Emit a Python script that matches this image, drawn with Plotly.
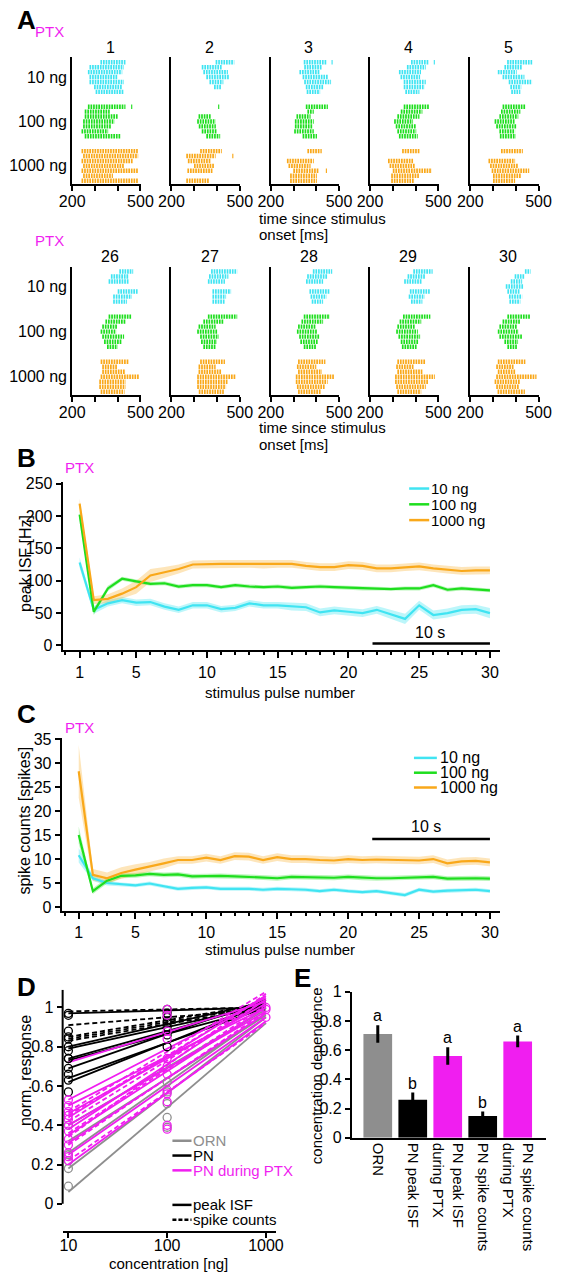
import plotly.graph_objects as go

W, H = 573, 1280
def fx(p): return p / W
def fy(p): return 1 - p / H

FONT = "Liberation Sans, Arial, Helvetica, sans-serif"
CYAN = "#40E4F2"; GREEN = "#1EDE1E"; ORANGE = "#F9A81A"; MAGENTA = "#F01EF0"; GRAY = "#8E8E8E"; BLACK = "#000000"
CYAN_F = "rgba(64,228,242,0.35)"; GREEN_F = "rgba(30,222,30,0.30)"; ORANGE_F = "rgba(249,168,26,0.30)"
RASTER_COLORS = [CYAN, GREEN, ORANGE]

# ---------------- Panel A data (rows: [first spike ms, last spike ms] segments) ----------------
conc_labels = ["10 ng", "100 ng", "1000 ng"]
raster_titles = ["1", "2", "3", "4", "5", "26", "27", "28", "29", "30"]

raster_1 = [
    [[[324, 434]], [[276, 427]], [[269, 420]], [[276, 400]], [[276, 427]], [[296, 420]], [[303, 427]]],
    [[[269, 434], [459, 464]], [[255, 365]], [[255, 400]], [[248, 386]], [[248, 372]], [[241, 358]], [[255, 413]]],
    [[[241, 490]], [[248, 490]], [[241, 468]], [[248, 427]], [[241, 489]], [[248, 379]], [[241, 490]]],
]
raster_2 = [
    [[[394, 476]], [[333, 421]], [[340, 448]], [[353, 455]], [[367, 428]], [[387, 421]], []],
    [[[405, 410]], [], [[319, 374]], [[313, 394]], [[320, 395]], [[333, 401]], [[353, 414]]],
    [[[326, 421]], [[265, 394], [467, 472]], [[272, 374]], [[299, 387]], [[270, 380]], [], [[265, 367]]],
]
raster_3 = [
    [[[345, 444], [467, 472]], [[347, 424]], [[326, 417]], [[340, 451]], [[347, 465]], [[354, 431]], [[358, 417]]],
    [[[354, 451]], [[361, 389]], [[313, 375]], [[306, 389]], [[306, 382]], [[303, 389]], [[340, 403]]],
    [[[361, 424]], [], [[271, 389]], [[278, 375]], [[299, 410], [442, 447]], [[285, 403]], [[285, 403]]],
]
raster_4 = [
    [[[380, 460], [480, 485]], [[362, 445]], [[327, 424]], [[334, 420]], [[348, 445]], [[348, 440]], [[355, 417]]],
    [[[348, 459]], [[335, 430]], [[320, 417]], [[306, 389]], [[313, 403]], [[320, 403]], [[327, 410]]],
    [[[341, 417]], [], [[279, 389]], [[286, 396]], [[300, 472]], [[293, 417]], [[293, 396]]],
]
raster_5 = [
    [[[362, 472]], [[350, 430]], [[321, 404]], [[342, 438]], [[369, 472]], [[376, 424]], [[380, 420]]],
    [[[342, 445]], [[335, 420]], [[328, 411]], [[307, 397]], [[314, 404]], [[328, 397]], [[330, 400]]],
    [[[335, 431]], [], [[280, 397]], [[287, 411]], [[294, 459]], [[300, 424]], [[300, 397]]],
]
raster_26 = [
    [[[407, 468]], [[370, 450]], [[360, 448]], [], [[400, 489]], [[380, 462]], [[380, 441]]],
    [[[360, 462]], [[346, 435]], [[332, 400]], [[325, 394]], [[332, 428]], [[340, 420]], [[353, 400]]],
    [[[325, 448]], [[332, 400]], [[332, 435]], [[325, 495]], [[319, 435]], [[319, 435]], [[325, 430]]],
]
raster_27 = [
    [[[374, 489]], [[365, 450]], [[360, 435]], [], [[380, 462]], [[380, 440]], [[380, 435]]],
    [[[360, 489]], [[340, 428]], [[319, 394]], [[313, 401]], [[326, 408]], [[330, 400]], [[340, 394]]],
    [[[326, 435]], [[319, 394]], [[319, 421]], [[313, 482]], [[313, 448]], [[313, 440]], [[320, 430]]],
]
raster_28 = [
    [[[385, 470]], [[360, 450]], [[355, 430]], [], [[370, 460]], [[375, 445]], [[380, 430]]],
    [[[345, 460]], [[335, 430]], [[320, 400]], [[315, 405]], [[325, 415]], [[330, 410]], [[345, 400]]],
    [[[320, 440]], [[315, 400]], [[320, 425]], [[310, 480]], [[310, 450]], [[315, 440]], [[320, 420]]],
]
raster_29 = [
    [[[390, 475]], [[365, 445]], [[350, 430]], [], [[375, 465]], [[370, 440]], [[380, 430]]],
    [[[345, 465]], [[330, 425]], [[320, 400]], [[315, 410]], [[325, 420]], [[335, 415]], [[340, 405]]],
    [[[320, 445]], [[315, 395]], [[320, 430]], [[310, 485]], [[310, 455]], [[315, 445]], [[320, 425]]],
]
raster_30 = [
    [[[440, 465]], [[395, 440]], [[378, 428]], [[356, 435]], [[363, 420]], [[370, 428]], [[372, 420]]],
    [[[363, 463]], [[342, 420]], [[328, 406]], [[321, 413]], [[328, 428]], [[350, 410]], [[363, 406]]],
    [[[321, 442]], [[314, 392]], [[321, 399]], [[314, 491]], [[307, 420]], [[314, 415]], [[320, 440]]],
]
rasters = [raster_1, raster_2, raster_3, raster_4, raster_5,
           raster_26, raster_27, raster_28, raster_29, raster_30]

# ---------------- Panel B / C data ----------------
pulses = list(range(1, 31))
B_10 = [128, 55, 65, 70, 66, 67, 60, 55, 62, 62, 56, 58, 65, 62, 62, 60, 59, 51, 54, 52, 50, 55, 48, 41, 62, 47, 50, 55, 56, 50]
B_100 = [202, 52, 88, 103, 99, 95, 96, 91, 93, 93, 90, 93, 91, 90, 91, 89, 90, 91, 90, 89, 88, 87, 87, 88, 88, 93, 86, 88, 87, 85]
B_1000 = [219, 70, 72, 80, 90, 108, 113, 118, 125, 126, 126, 126, 126, 125, 126, 126, 123, 121, 121, 124, 123, 119, 119, 121, 122, 119, 117, 115, 116, 116]
B_10_err = [8, 6, 5, 5, 5, 5, 5, 5, 5, 5, 5, 5, 5, 5, 5, 6, 6, 6, 6, 6, 6, 6, 7, 8, 7, 7, 7, 7, 7, 8]
B_100_err = [6, 5, 4, 3, 3, 3, 3, 3, 3, 3, 3, 3, 3, 3, 3, 3, 3, 3, 3, 3, 3, 3, 3, 3, 3, 3, 3, 3, 3, 3]
B_1000_err = [8, 6, 7, 8, 10, 10, 8, 7, 6, 6, 6, 6, 6, 6, 6, 6, 6, 6, 6, 6, 6, 6, 6, 6, 6, 6, 6, 6, 6, 6]

C_10 = [10.8, 6.0, 5.0, 4.7, 4.5, 4.9, 4.3, 3.8, 4.0, 4.1, 3.8, 3.8, 3.8, 3.6, 3.8, 3.7, 3.6, 3.3, 3.6, 3.3, 3.1, 3.3, 2.9, 2.5, 3.6, 3.2, 3.4, 3.5, 3.6, 3.3]
C_100 = [15.0, 3.3, 5.5, 6.5, 6.6, 6.9, 6.7, 6.8, 6.4, 6.5, 6.5, 6.4, 6.3, 6.2, 6.0, 6.3, 6.2, 6.2, 6.1, 6.3, 6.1, 6.0, 6.0, 6.1, 6.2, 6.3, 5.9, 6.0, 6.0, 5.9]
C_1000 = [28.3, 6.7, 6.0, 7.1, 7.8, 8.4, 9.1, 9.8, 9.8, 10.3, 9.8, 10.6, 10.5, 9.8, 10.4, 10.0, 10.0, 9.8, 9.7, 10.0, 9.8, 9.9, 9.8, 9.7, 9.7, 10.0, 9.1, 9.5, 9.6, 9.3]
C_10_err = [1.5, 0.6, 0.5, 0.4, 0.4, 0.4, 0.4, 0.4, 0.4, 0.4, 0.4, 0.4, 0.4, 0.4, 0.4, 0.4, 0.4, 0.4, 0.4, 0.4, 0.4, 0.4, 0.4, 0.4, 0.4, 0.4, 0.4, 0.4, 0.4, 0.4]
C_100_err = [1.8, 0.6, 0.6, 0.5, 0.5, 0.5, 0.5, 0.5, 0.5, 0.5, 0.5, 0.5, 0.5, 0.5, 0.5, 0.5, 0.5, 0.5, 0.5, 0.5, 0.5, 0.5, 0.5, 0.5, 0.5, 0.5, 0.5, 0.5, 0.5, 0.5]
C_1000_err = [5.5, 1.2, 1.2, 1.2, 1.1, 1.0, 1.0, 0.8, 0.8, 0.8, 0.8, 0.8, 0.8, 0.8, 0.8, 0.8, 0.8, 0.8, 0.8, 0.8, 0.8, 0.8, 0.8, 0.8, 0.8, 0.8, 0.8, 0.8, 0.8, 0.8]
dose_labels = ["10 ng", "100 ng", "1000 ng"]

# ---------------- Panel D data ----------------
conc = [10, 100, 1000]
ORN_fit_start = [0.06, 0.18, 0.26, 0.32, 0.40]
ORN_fit_end = [0.92, 0.95, 0.97, 0.96, 0.99]
ORN_pts_10 = [0.09, 0.18, 0.22, 0.25, 0.40]
ORN_pts_100 = [0.44, 0.39, 0.51, 0.57, 0.62]
PN_isf_start = [0.97, 0.80, 0.79, 0.74, 0.73, 0.69, 0.64, 0.62]
PN_isf_end = [1.00, 1.03, 1.01, 1.02, 1.00, 1.04, 1.00, 1.02]
PN_sc_start = [0.98, 0.91, 0.85, 0.84, 0.83]
PN_sc_end = [1.00, 0.99, 1.02, 1.01, 1.00]
PN_pts_10 = [0.97, 0.96, 0.88, 0.85, 0.84, 0.80, 0.78, 0.74, 0.74, 0.69, 0.66, 0.63, 0.57]
PN_pts_100 = [0.99, 0.97, 0.95, 0.93, 0.92, 0.90, 0.86, 0.80]
PTX_isf_start = [0.72, 0.53, 0.50, 0.46, 0.44, 0.40, 0.35, 0.31, 0.25, 0.20, 0.38]
PTX_isf_end = [1.03, 1.05, 1.00, 1.02, 1.06, 0.98, 1.00, 0.97, 0.95, 0.93, 1.04]
PTX_sc_start = [0.47, 0.45, 0.42, 0.36, 0.30, 0.22, 0.34]
PTX_sc_end = [1.08, 1.06, 1.04, 1.01, 0.98, 0.92, 1.07]
PTX_pts_10 = [0.53, 0.50, 0.47, 0.45, 0.43, 0.40, 0.37, 0.33, 0.30, 0.26, 0.24, 0.22]
PTX_pts_100 = [0.99, 0.96, 0.88, 0.84, 0.74, 0.70, 0.66, 0.58, 0.56, 0.52, 0.40, 0.38]
PTX_pts_1000 = [0.99, 0.95, 1.00]

# ---------------- Panel E data ----------------
E_labels = ["ORN", "PN peak ISF", "PN peak ISF<br>during PTX", "PN spike counts", "PN spike counts<br>during PTX"]
E_values = [0.71, 0.26, 0.56, 0.15, 0.66]
E_err = [0.06, 0.05, 0.06, 0.03, 0.04]
E_letters = ["a", "b", "a", "b", "a"]
E_colors = [GRAY, BLACK, MAGENTA, BLACK, MAGENTA]

fig = go.Figure()
layout = dict(width=W, height=H, margin=dict(l=0, r=0, t=0, b=0),
              plot_bgcolor="white", paper_bgcolor="white", showlegend=False,
              font=dict(family=FONT, size=15, color="black"))
annotations = []
shapes = []

def ann(x, y, text, size=15, color="black", xanchor="center", yanchor="middle", bold=False, angle=0, align="center"):
    if bold:
        text = "<b>" + text + "</b>"
    annotations.append(dict(x=fx(x), y=fy(y), xref="paper", yref="paper", text=text, showarrow=False,
                            font=dict(size=size, color=color, family=FONT), xanchor=xanchor, yanchor=yanchor,
                            textangle=angle, align=align, borderpad=0))

def axname(n, kind):
    return kind + ("axis" if n == 1 else "axis%d" % n)

def ref(n, kind):
    return kind if n == 1 else "%s%d" % (kind, n)

# ---------------- Panel A ----------------
raster_left = [62, 166, 270, 374, 479]
raster_width = 72
row_tops = [50, 262]
row_bottoms = [178, 392]
for i, panel in enumerate(rasters):
    n = i + 1
    col, row = i % 5, i // 5
    layout[axname(n, "x")] = dict(domain=[fx(raster_left[col]), fx(raster_left[col] + raster_width)],
                                  range=[200, 502], anchor=ref(n, "y"), showline=True, linewidth=2, linecolor="black",
                                  ticks="outside", ticklen=5, tickwidth=2, tickcolor="black",
                                  tickvals=[200, 300, 400, 500], ticktext=["200", "", "", "500"],
                                  ticklabelstandoff=-3,
                                  tickfont=dict(size=16), showgrid=False, zeroline=False)
    layout[axname(n, "y")] = dict(domain=[fy(row_bottoms[row]), fy(row_tops[row])], range=[24.6, -1],
                                  anchor=ref(n, "x"), showline=True, linewidth=2, linecolor="black", ticks="",
                                  tickvals=[3, 12, 21], ticktext=conc_labels, showticklabels=(col == 0),
                                  tickfont=dict(size=16), showgrid=False, zeroline=False)
    for c, rows in enumerate(panel):
        xs, ys = [], []
        for k, r in enumerate(rows):
            for seg in r:
                xs += [seg[0], seg[1], None]
                ys += [c * 9 + k, c * 9 + k, None]
        fig.add_trace(go.Scatter(x=xs, y=ys, mode="lines", xaxis=ref(n, "x"), yaxis=ref(n, "y"),
                                 line=dict(color=RASTER_COLORS[c], width=4.4, dash="1.7px,0.9px"), hoverinfo="skip"))
    ann(raster_left[col] + raster_width / 2 + 4, 40 if row == 0 else 252, raster_titles[i], size=16)

ann(3, 12, "A", size=26, bold=True, xanchor="left")
ann(22, 24, "PTX", size=15, color=MAGENTA, xanchor="left")
ann(22, 236, "PTX", size=15, color=MAGENTA, xanchor="left")
for y1, y2 in [(213, 230), (425, 442)]:
    ann(257, y1, "time since stimulus", size=15, xanchor="left")
    ann(257, y2, "onset [ms]", size=15, xanchor="left")

# ---------------- Panels B, C ----------------
def line_panel(n, xdom, ydom, yrange, ytickvals, series, errs, colors, fills, scalebar_y):
    layout[axname(n, "x")] = dict(domain=[fx(xdom[0]), fx(xdom[1])], range=[-0.2, 30.7], anchor=ref(n, "y"),
                                  showline=True, linewidth=2, linecolor="black", ticks="outside", ticklen=6,
                                  tickwidth=2, tickcolor="black", tickvals=[1, 5, 10, 15, 20, 25, 30],
                                  minor=dict(ticks="outside", ticklen=3, tickwidth=1.5, dtick=1, tick0=0, tickcolor="black"),
                                  tickfont=dict(size=16), showgrid=False, zeroline=False)
    layout[axname(n, "y")] = dict(domain=[fy(ydom[1]), fy(ydom[0])], range=yrange, anchor=ref(n, "x"),
                                  showline=True, linewidth=2, linecolor="black", ticks="outside", ticklen=5,
                                  tickwidth=2, tickcolor="black", tickvals=ytickvals, tickfont=dict(size=16),
                                  showgrid=False, zeroline=False)
    for s, e, col, fc in zip(series, errs, colors, fills):
        up = [a + b for a, b in zip(s, e)]
        lo = [a - b for a, b in zip(s, e)]
        fig.add_trace(go.Scatter(x=pulses + pulses[::-1], y=up + lo[::-1], fill="toself", fillcolor=fc,
                                 line=dict(width=0), mode="lines", xaxis=ref(n, "x"), yaxis=ref(n, "y"), hoverinfo="skip"))
    for s, col in zip(series, colors):
        fig.add_trace(go.Scatter(x=pulses, y=s, mode="lines", line=dict(color=col, width=2.2),
                                 xaxis=ref(n, "x"), yaxis=ref(n, "y")))
    shapes.append(dict(type="line", xref=ref(n, "x"), yref=ref(n, "y"), x0=21.7, x1=30, y0=scalebar_y, y1=scalebar_y,
                       line=dict(color="black", width=2.5)))

line_panel(11, (52, 510), (480, 651), [-7.6, 253], [0, 50, 100, 150, 200, 250],
           [B_10, B_100, B_1000], [B_10_err, B_100_err, B_1000_err], [CYAN, GREEN, ORANGE],
           [CYAN_F, GREEN_F, ORANGE_F], 3)
line_panel(12, (51, 510), (740, 915), [-0.8, 35.2], [0, 5, 10, 15, 20, 25, 30, 35],
           [C_10, C_100, C_1000], [C_10_err, C_100_err, C_1000_err], [CYAN, GREEN, ORANGE],
           [CYAN_F, GREEN_F, ORANGE_F], 14.2)

ann(3, 456, "B", size=26, bold=True, xanchor="left")
ann(53, 466, "PTX", size=15, color=MAGENTA, xanchor="left")
ann(13, 563, "peak ISF [Hz]", size=16, angle=-90)
ann(280, 694, "stimulus pulse number", size=15)
ann(437, 633, "10 s", size=16)
for k, (lab, col) in enumerate(zip(dose_labels, [CYAN, GREEN, ORANGE])):
    yy = [487, 503, 519][k]
    shapes.append(dict(type="line", xref="paper", yref="paper", x0=fx(415), x1=fx(436), y0=fy(yy), y1=fy(yy),
                       line=dict(color=col, width=2.5)))
    ann(437, yy, lab, size=15, xanchor="left")

ann(3, 716, "C", size=26, bold=True, xanchor="left")
ann(53, 729, "PTX", size=15, color=MAGENTA, xanchor="left")
ann(12, 823, "spike counts [spikes]", size=16, angle=-90)
ann(280, 954, "stimulus pulse number", size=15)
ann(433, 830, "10 s", size=16)
for k, (lab, col) in enumerate(zip(dose_labels, [CYAN, GREEN, ORANGE])):
    yy = [760, 775, 790][k]
    shapes.append(dict(type="line", xref="paper", yref="paper", x0=fx(420), x1=fx(444), y0=fy(yy), y1=fy(yy),
                       line=dict(color=col, width=2.5)))
    ann(446, yy, lab, size=16, xanchor="left")

# ---------------- Panel D ----------------
n = 13
layout[axname(n, "x")] = dict(domain=[fx(52), fx(275)], type="log", range=[0.942, 3.097], anchor=ref(n, "y"),
                              showline=True, linewidth=2, linecolor="black", ticks="outside", ticklen=5, tickwidth=2,
                              tickcolor="black", tickvals=[10, 100, 1000], ticktext=["10", "100", "1000"],
                              ticklabelstandoff=-6,
                              tickfont=dict(size=16), showgrid=False, zeroline=False)
layout[axname(n, "y")] = dict(domain=[fy(1239), fy(995)], range=[-0.136, 1.09], anchor=ref(n, "x"),
                              showline=False, ticks="outside", ticklen=5, tickwidth=2, tickcolor="black",
                              tickvals=[0, 0.2, 0.4, 0.6, 0.8, 1], ticktext=["0", "0.2", "0.4", "0.6", "0.8", "1"],
                              tickfont=dict(size=16), showgrid=False, zeroline=False)
shapes.append(dict(type="line", xref="paper", yref=ref(n, "y"), x0=fx(52), x1=fx(52), y0=0, y1=1.09,
                   line=dict(color="black", width=2)))

def d_lines(starts, ends, color, dash):
    xs, ys = [], []
    for a, b in zip(starts, ends):
        xs += [conc[0], conc[2], None]
        ys += [a, b, None]
    fig.add_trace(go.Scatter(x=xs, y=ys, mode="lines", line=dict(color=color, width=1.8, dash=dash),
                             xaxis="x13", yaxis="y13"))

def d_pts(vals, xval, color):
    fig.add_trace(go.Scatter(x=[xval] * len(vals), y=vals, mode="markers",
                             marker=dict(symbol="circle-open", size=8, color=color, line=dict(width=1.3, color=color)),
                             xaxis="x13", yaxis="y13"))

d_lines(ORN_fit_start, ORN_fit_end, GRAY, "solid")
d_lines(PN_isf_start, PN_isf_end, BLACK, "solid")
d_lines(PN_sc_start, PN_sc_end, BLACK, "5px,3px")
d_lines(PTX_isf_start, PTX_isf_end, MAGENTA, "solid")
d_lines(PTX_sc_start, PTX_sc_end, MAGENTA, "5px,3px")
d_pts(ORN_pts_10, conc[0], GRAY)
d_pts(ORN_pts_100, conc[1], GRAY)
d_pts(PN_pts_10, conc[0], BLACK)
d_pts(PN_pts_100, conc[1], BLACK)
d_pts(PTX_pts_10, conc[0], MAGENTA)
d_pts(PTX_pts_100, conc[1], MAGENTA)
d_pts(PTX_pts_1000, conc[2], MAGENTA)

ann(3, 992, "D", size=26, bold=True, xanchor="left")
ann(13, 1077, "norm. response", size=16, angle=-90)
ann(163, 1272, "concentration [ng]", size=15)
for yy, lab, col, dash in [(1148, "ORN", GRAY, "solid"), (1163, "PN", BLACK, "solid"),
                           (1178, "PN during PTX", MAGENTA, "solid"), (1213, "peak ISF", BLACK, "solid"),
                           (1228, "spike counts", BLACK, "4px,2px")]:
    shapes.append(dict(type="line", xref="paper", yref="paper", x0=fx(167), x1=fx(187), y0=fy(yy), y1=fy(yy),
                       line=dict(color=col, width=2.5, dash=dash)))
    ann(188, yy, lab, size=15, color=col, xanchor="left")

# ---------------- Panel E ----------------
n = 14
layout[axname(n, "x")] = dict(domain=[fx(355), fx(558)], range=[-0.74, 4.8], anchor=ref(n, "y"),
                              showline=True, linewidth=2, linecolor="black", ticks="", tickangle=90,
                              tickvals=list(range(len(E_labels))), ticktext=E_labels,
                              tickfont=dict(size=15), showgrid=False, zeroline=False)
layout[axname(n, "y")] = dict(domain=[fy(1145), fy(997)], range=[0, 1], anchor=ref(n, "x"),
                              showline=True, linewidth=2, linecolor="black", ticks="outside", ticklen=5, tickwidth=2,
                              tickcolor="black", tickvals=[0, 0.2, 0.4, 0.6, 0.8, 1],
                              ticktext=["0", "0.2", "0.4", "0.6", "0.8", "1"], tickfont=dict(size=16),
                              showgrid=False, zeroline=False)
fig.add_trace(go.Bar(x=list(range(len(E_labels))), y=E_values, width=0.82, marker=dict(color=E_colors, line=dict(width=0)),
                     error_y=dict(type="data", array=E_err, color="black", thickness=3, width=0),
                     xaxis="x14", yaxis="y14"))
for k, (v, e, t) in enumerate(zip(E_values, E_err, E_letters)):
    annotations.append(dict(x=k, y=v + e + 0.065, xref="x14", yref="y14", text=t, showarrow=False,
                            font=dict(size=16, family=FONT, color="black"), xanchor="center", yanchor="middle"))
ann(293, 983, "E", size=26, bold=True, xanchor="left")
ann(318, 1082, "concentration dependence", size=15, angle=-90)

layout["annotations"] = annotations
layout["shapes"] = shapes
fig.update_layout(**layout)
fig.write_html("out.html", config={"displayModeBar": False},
               post_script="document.body.style.margin='0px';document.body.style.padding='0px';")
